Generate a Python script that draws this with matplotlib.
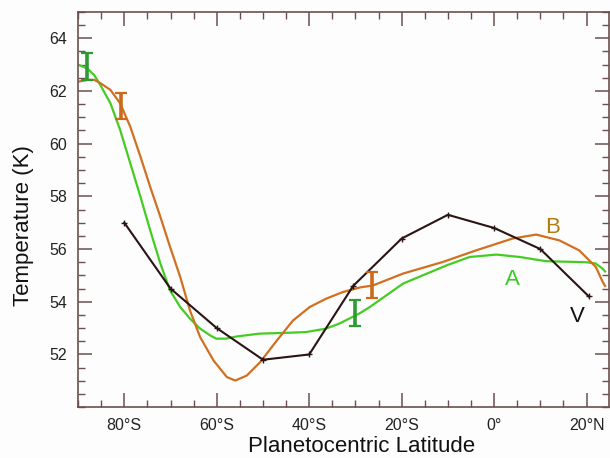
import matplotlib
matplotlib.use("Agg")
import matplotlib.pyplot as plt
from matplotlib.ticker import MultipleLocator

plt.rcParams['font.family'] = ['Liberation Sans', 'DejaVu Sans']

# Series V (measured points)
v_lat = [-80, -70, -60, -50, -40, -30.5, -20, -10, 0, 10, 20.5]
v_temp = [57.0, 54.5, 53.0, 51.8, 52.0, 54.6, 56.4, 57.3, 56.8, 56.0, 54.2]

# Series A (green curve)
a_lat = [-90, -88, -86.5, -85.2, -83.0, -80.9, -78.7, -76.5, -74.4, -72.2, -70.1, -67.9,
         -65.8, -63.6, -61.4, -60.1, -58, -55.8, -50.8, -45, -40.7, -36.4, -33.5,
         -29.2, -26.9, -19.7, -10.3, -5.3, 0.5, 5.5, 11.2, 19.9, 22, 23.5, 24]
a_temp = [63.0, 62.85, 62.6, 62.23, 61.53, 60.52, 59.25, 57.98, 56.71, 55.45, 54.43, 53.8,
          53.36, 52.98, 52.72, 52.6, 52.6, 52.68, 52.79, 52.82, 52.85, 52.98, 53.17,
          53.55, 53.8, 54.69, 55.38, 55.7, 55.79, 55.7, 55.54, 55.5, 55.45, 55.25, 55.15]

# Series B (orange curve)
b_lat = [-90, -88, -86.5, -85.2, -83.0, -80.9, -78.7, -76.5, -74.4, -72.2, -70.1, -67.9,
         -65.8, -63.6, -60.7, -57.8, -56, -53.5, -50.6, -47, -43.5, -39.9, -36.3, -32.7,
         -29.1, -26.2, -19.7, -11.1, -3.9, 4, 9.1, 14.1, 18.4, 22, 23.5, 24]
b_temp = [62.35, 62.42, 62.42, 62.3, 62.04, 61.53, 60.64, 59.5, 58.36, 57.22, 56.08, 54.94,
          53.67, 52.66, 51.77, 51.14, 51.01, 51.2, 51.71, 52.53, 53.29, 53.8, 54.12, 54.37,
          54.54, 54.62, 55.07, 55.51, 55.95, 56.4, 56.55, 56.33, 55.95, 55.32, 54.75, 54.6]

# Error bars
ea_lat = [-88, -30]
ea_temp = [62.93, 53.57]
ea_err = [0.5, 0.5]
eb_lat = [-80.7, -26.4]
eb_temp = [61.42, 54.63]
eb_err = [0.5, 0.5]

xticks = [-80, -60, -40, -20, 0, 20]
xlabels = ['80°S', '60°S', '40°S', '20°S', '0°', '20°N']
yticks = [52, 54, 56, 58, 60, 62, 64]

fig = plt.figure(figsize=(6.10, 4.58), dpi=100)
fig.patch.set_facecolor('#fdfdfd')
ax = fig.add_axes([0.128, 0.111, 0.87, 0.863])
ax.set_facecolor('#fdfdfd')

ax.plot(a_lat, a_temp, color='#44cc22', lw=1.6, zorder=2)
ax.plot(b_lat, b_temp, color='#d07020', lw=1.6, zorder=2)
ax.plot(v_lat, v_temp, color='#2a1414', lw=1.5, marker='+', ms=5, mew=1.0, zorder=3)

ax.errorbar(ea_lat, ea_temp, yerr=ea_err, fmt='none', ecolor='#2e9a34',
            elinewidth=2.6, capsize=4, capthick=1.6, zorder=4)
ax.errorbar(eb_lat, eb_temp, yerr=eb_err, fmt='none', ecolor='#cc6a1a',
            elinewidth=2.6, capsize=4, capthick=1.6, zorder=4)

ax.text(12.7, 56.8, 'B', color='#b07c10', fontsize=16, ha='center', va='center')
ax.text(4.0, 54.84, 'A', color='#33cc22', fontsize=16, ha='center', va='center')
ax.text(18.0, 53.45, 'V', color='#111111', fontsize=16, ha='center', va='center')

ax.set_xlim(-90, 24.8)
ax.set_ylim(50, 65)
ax.set_xticks(xticks)
ax.set_xticklabels(xlabels)
ax.set_yticks(yticks)
ax.xaxis.set_minor_locator(MultipleLocator(5))
ax.yaxis.set_minor_locator(MultipleLocator(0.5))

axc = '#6b4f4f'
for s in ax.spines.values():
    s.set_color(axc)
    s.set_linewidth(1.2)
ax.tick_params(which='both', direction='in', top=True, right=True, color=axc,
               labelsize=11.5, labelcolor='#222222')
ax.tick_params(which='major', length=10, width=1.1, pad=8)
ax.tick_params(which='minor', length=5, width=1.0)

ax.set_xlabel('Planetocentric Latitude', fontsize=16, color='#111111')
ax.xaxis.set_label_coords(0.534, -0.074)
ax.set_ylabel('Temperature (K)', fontsize=16, color='#111111')
ax.yaxis.set_label_coords(-0.084, 0.46)

fig.savefig('out.png', dpi=100, facecolor=fig.get_facecolor())
